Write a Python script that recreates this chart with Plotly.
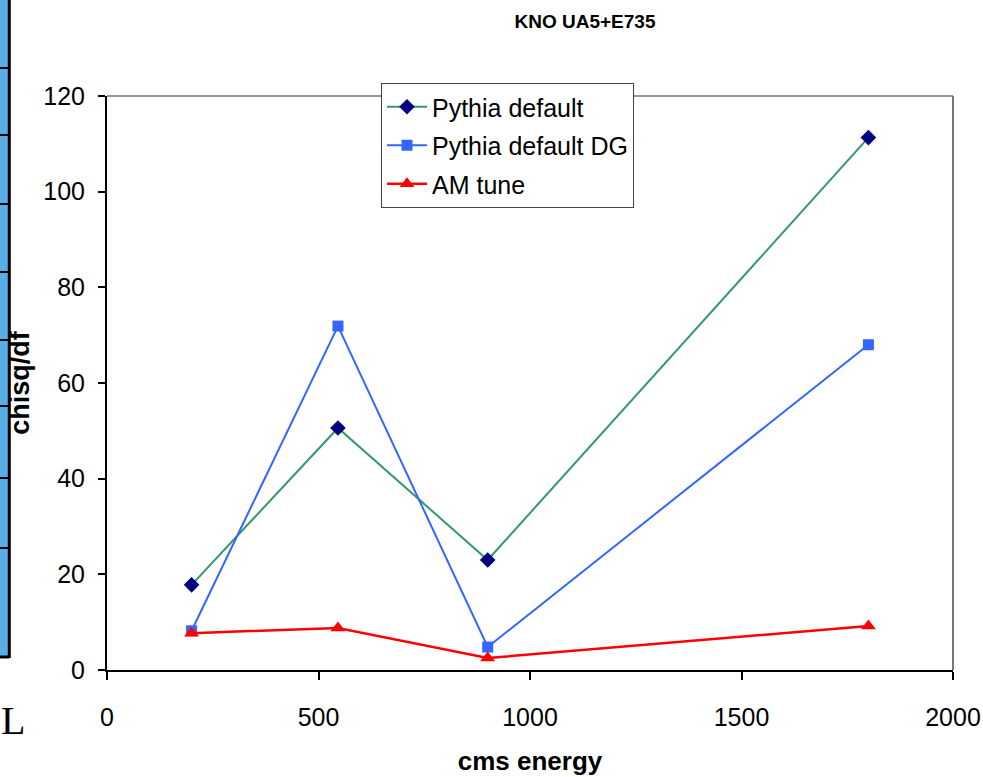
import plotly.graph_objects as go

energy = [200, 546, 900, 1800]
pythia_default = [17.8, 50.6, 23.0, 111.3]
pythia_default_dg = [8.2, 71.9, 4.8, 68.0]
am_tune = [7.7, 8.8, 2.5, 9.2]

x_ticks = [0, 500, 1000, 1500, 2000]
y_ticks = [0, 20, 40, 60, 80, 100, 120]

FONT = "Liberation Sans, Arial, sans-serif"

fig = go.Figure()
fig.add_trace(go.Scatter(x=energy, y=pythia_default, mode="lines+markers", name="Pythia default",
                         legendgroup="a",
                         line=dict(color="#339966", width=2),
                         marker=dict(symbol="diamond", size=12, color="#000080")))
fig.add_trace(go.Scatter(x=energy, y=pythia_default_dg, mode="lines+markers", name="Pythia default DG",
                         legendgroup="b",
                         line=dict(color="#3366ff", width=2),
                         marker=dict(symbol="square", size=11, color="#3366ff")))
fig.add_trace(go.Scatter(x=energy, y=am_tune, mode="lines+markers", name="AM tune",
                         legendgroup="c",
                         line=dict(color="#ff0000", width=2.5),
                         marker=dict(symbol="triangle-up", size=13, color="#ff0000")))

# decorative remnants of the slide on the left edge
shapes = [
    dict(type="rect", xref="paper", yref="paper", x0=-0.13, x1=-0.1155,
         y0=(670 - 657) / 574, y1=(670 + 10) / 574,
         fillcolor="#5aaee6", line=dict(width=0), layer="below"),
    dict(type="line", xref="paper", yref="paper", x0=-0.1155, x1=-0.1155,
         y0=(670 - 658) / 574, y1=(670 + 10) / 574,
         line=dict(color="black", width=3)),
    dict(type="line", xref="paper", yref="paper", x0=-0.13, x1=-0.1155,
         y0=(670 - 657) / 574, y1=(670 - 657) / 574,
         line=dict(color="black", width=3)),
    # frame: top and right in grey
    dict(type="line", xref="paper", yref="paper", x0=0, x1=1, y0=1, y1=1,
         line=dict(color="#777777", width=1.5)),
    dict(type="line", xref="paper", yref="paper", x0=1, x1=1, y0=0, y1=1,
         line=dict(color="#777777", width=2)),
]
for yy in [68, 135, 204, 272, 340, 406, 478, 548]:
    p = (670 - yy) / 574
    shapes.append(dict(type="line", xref="paper", yref="paper", x0=-0.13, x1=-0.1155,
                       y0=p, y1=p, line=dict(color="black", width=2)))

fig.update_layout(
    width=983, height=777,
    margin=dict(l=107, r=30, t=96, b=107, autoexpand=False),
    paper_bgcolor="white", plot_bgcolor="white",
    font=dict(family=FONT, color="black", size=25),
    title=dict(text="<b>KNO UA5+E735</b>", x=585 / 983, xanchor="center",
               y=1 - 21 / 777, yanchor="middle",
               font=dict(family=FONT, size=19, color="black")),
    showlegend=True,
    legend=dict(x=(381 - 107) / 846, y=(670 - 83) / 574, xanchor="left", yanchor="top",
                bgcolor="white", bordercolor="#444444", borderwidth=1,
                font=dict(family=FONT, size=25, color="black"),
                tracegroupgap=3, itemwidth=40),
    shapes=shapes,
    annotations=[dict(text="L", xref="paper", yref="paper", x=-0.128, y=(670 - 720) / 574,
                      xanchor="left", yanchor="middle", showarrow=False,
                      font=dict(family="Liberation Serif, Times New Roman, serif", size=40, color="black"))],
)

fig.update_xaxes(range=[0, 2000], tickvals=x_ticks, ticktext=[str(v) for v in x_ticks],
                 automargin=False,
                 showgrid=False, zeroline=False, showline=True, linecolor="black", linewidth=2,
                 ticks="outside", ticklen=8, tickcolor="black", tickwidth=1.5,
                 ticklabelstandoff=16,
                 tickfont=dict(family=FONT, size=25),
                 title=dict(text="<b>cms energy</b>", font=dict(family=FONT, size=26), standoff=22))
fig.update_yaxes(range=[0, 120], tickvals=y_ticks, ticktext=[str(v) for v in y_ticks],
                 automargin=False,
                 showgrid=False, zeroline=False, showline=True, linecolor="black", linewidth=2,
                 ticks="outside", ticklen=7, tickcolor="black", tickwidth=1.5,
                 ticklabelstandoff=8,
                 tickfont=dict(family=FONT, size=25),
                 title=dict(text="<b>chisq/df</b>", font=dict(family=FONT, size=27), standoff=6))

fig.write_html("out.html", config={"displayModeBar": False},
               post_script="document.body.style.margin='0px';document.body.style.overflow='hidden';")
